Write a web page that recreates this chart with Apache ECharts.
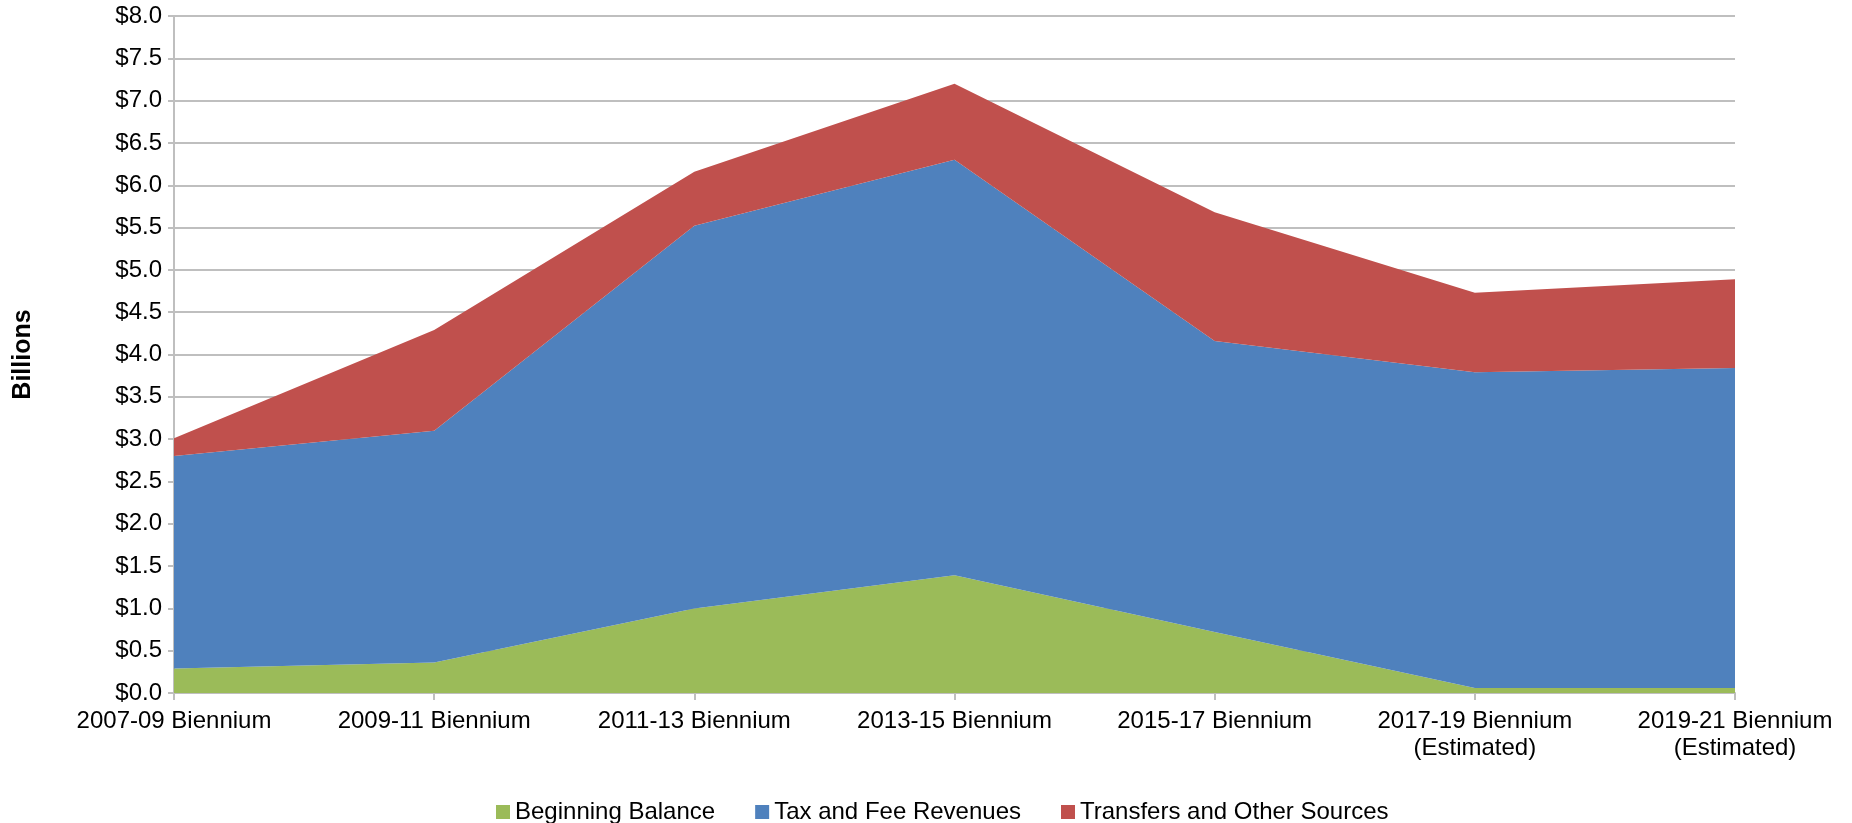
<!DOCTYPE html>
<html>
<head>
<meta charset="utf-8">
<title>Revenue Sources by Biennium</title>
<script src="https://cdn.jsdelivr.net/npm/echarts@6/dist/echarts.min.js"></script>
<style>
  html, body { margin: 0; padding: 0; background: #fff; }
  #chart { width: 1852px; height: 823px; }
</style>
</head>
<body>
<div id="chart"></div>
<script>
// categories on the x axis
var biennia = [
  "2007-09 Biennium",
  "2009-11 Biennium",
  "2011-13 Biennium",
  "2013-15 Biennium",
  "2015-17 Biennium",
  "2017-19 Biennium\n(Estimated)",
  "2019-21 Biennium\n(Estimated)"
];

// values in billions
var beginningBalance = [0.29, 0.36, 1.00, 1.39, 0.72, 0.06, 0.06];
var taxAndFee = [2.51, 2.74, 4.52, 4.91, 3.44, 3.73, 3.78];
var transfers = [0.21, 1.19, 0.64, 0.90, 1.52, 0.94, 1.05];

var seriesNames = ["Beginning Balance", "Tax and Fee Revenues", "Transfers and Other Sources"];

var chart = echarts.init(document.getElementById("chart"));

var FONT = "Liberation Sans, Arial, sans-serif";

function areaSeries(name, data, color) {
  return {
    name: name,
    type: "line",
    stack: "total",
    data: data,
    symbol: "none",
    smooth: false,
    animation: false,
    lineStyle: { width: 0 },
    areaStyle: { color: color, opacity: 1 },
    itemStyle: { color: color }
  };
}

var option = {
  backgroundColor: "#fff",
  textStyle: { fontFamily: FONT },
  grid: {
    left: 174,
    right: 117,
    top: 16,
    bottom: 130,
    containLabel: false,
    outerBoundsMode: "none"
  },
  legend: {
    top: 800,
    left: 496,
    padding: 0,
    itemWidth: 14,
    itemHeight: 14,
    itemGap: 40,
    icon: "rect",
    textStyle: { fontSize: 24, color: "#000", fontFamily: FONT },
    data: seriesNames
  },
  xAxis: {
    type: "category",
    boundaryGap: false,
    data: biennia,
    axisLine: { show: true, lineStyle: { color: "#BFBFBF", width: 2 } },
    axisTick: { show: true, alignWithLabel: true, length: 7, lineStyle: { color: "#BFBFBF", width: 2 } },
    axisLabel: {
      color: "#000",
      fontSize: 24,
      lineHeight: 27,
      margin: 15,
      interval: 0,
      fontFamily: FONT
    },
    splitLine: { show: false }
  },
  yAxis: {
    type: "value",
    min: 0,
    max: 8,
    interval: 0.5,
    name: "Billions",
    nameLocation: "middle",
    nameGap: 138,
    nameTextStyle: { fontSize: 25, fontWeight: "bold", color: "#000", fontFamily: FONT },
    axisLine: { show: true, lineStyle: { color: "#BFBFBF", width: 2 } },
    axisTick: { show: true, length: 6, lineStyle: { color: "#BFBFBF", width: 2 } },
    axisLabel: {
      color: "#000",
      fontSize: 24,
      margin: 12,
      fontFamily: FONT,
      formatter: function (v) { return "$" + v.toFixed(1); }
    },
    splitLine: { show: true, lineStyle: { color: "#BFBFBF", width: 2 } }
  },
  series: [
    areaSeries(seriesNames[0], beginningBalance, "#9BBB59"),
    areaSeries(seriesNames[1], taxAndFee, "#4F81BD"),
    areaSeries(seriesNames[2], transfers, "#C0504D")
  ]
};

chart.setOption(option);
</script>
</body>
</html>
